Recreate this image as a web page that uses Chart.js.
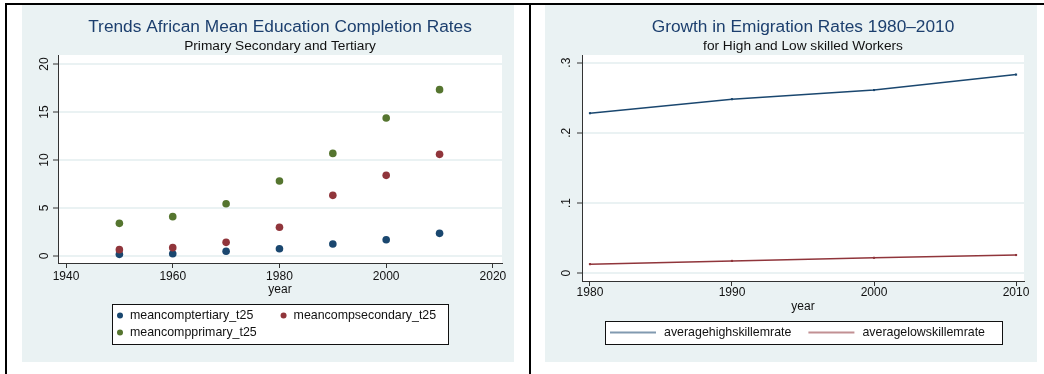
<!DOCTYPE html>
<html>
<head>
<meta charset="utf-8">
<script src="https://cdn.jsdelivr.net/npm/chart.js@4"></script>
<style>
  html, body { margin: 0; padding: 0; background: #fff; }
  body { width: 1044px; height: 374px; position: relative; overflow: hidden; }
  .rule { position: absolute; background: #000; }
  .panel { position: absolute; top: 5px; width: 492px; height: 357px; background: #eaf2f3; }
  #leftPanel { left: 22px; }
  #rightPanel { left: 545px; }
</style>
</head>
<body>
<div class="rule" style="left:5px;top:3px;width:1039px;height:2px"></div>
<div class="rule" style="left:5px;top:3px;width:2px;height:371px"></div>
<div class="rule" style="left:529px;top:3px;width:2px;height:371px"></div>
<div class="panel" id="leftPanel"><canvas id="eduChart"></canvas></div>
<div class="panel" id="rightPanel"><canvas id="emigChart"></canvas></div>
<script>
// Datos del gráfico de educación
const eduYears = [1950, 1960, 1970, 1980, 1990, 2000, 2010];
const tertiary = [0.17, 0.24, 0.49, 0.76, 1.25, 1.70, 2.36];
const secondary = [0.66, 0.87, 1.42, 2.99, 6.32, 8.40, 10.59];
const primary = [3.40, 4.10, 5.45, 7.81, 10.69, 14.38, 17.33];
const eduXTicks = [1940, 1960, 1980, 2000, 2020];
const eduYTicks = [0, 5, 10, 15, 20];
const eduYLabels = ['0', '5', '10', '15', '20'];

// Datos del gráfico de emigración
const emYears = [1980, 1990, 2000, 2010];
const highSkill = [0.228, 0.248, 0.261, 0.283];
const lowSkill = [0.013, 0.0176, 0.022, 0.026];
const emXTicks = [1980, 1990, 2000, 2010];
const emYTicks = [0, 0.1, 0.2, 0.3];
const emYLabels = ['0', '.1', '.2', '.3'];

const navy = '#1a476f';
const maroon = '#90353b';
const green = '#55752f';
const FAMILY = '"Liberation Sans", Arial, Helvetica, sans-serif';

Chart.defaults.font.family = FAMILY;
Chart.defaults.color = '#111';

const toPoints = (xs, ys) => xs.map((x, i) => ({ x: x, y: ys[i] }));

// fondo blanco del área, etiquetas verticales del eje y y leyenda con caja
const stataLook = {
    id: 'stataLook',
    beforeDraw(chart) {
        const a = chart.chartArea;
        const ctx = chart.ctx;
        ctx.save();
        ctx.fillStyle = '#ffffff';
        ctx.fillRect(a.left, a.top, a.right - a.left, a.bottom - a.top);
        ctx.restore();
    },
    afterDraw(chart, args, opts) {
        const ctx = chart.ctx;
        const y = chart.scales.y;
        const a = chart.chartArea;

        ctx.save();
        ctx.font = '12px ' + FAMILY;
        ctx.fillStyle = '#111';
        ctx.textAlign = 'center';
        ctx.textBaseline = 'middle';
        y.ticks.forEach((t, i) => {
            ctx.save();
            ctx.translate(y.right - opts.yLabelGap, y.getPixelForValue(t.value));
            ctx.rotate(-Math.PI / 2);
            ctx.fillText(opts.yLabels[i], 0, 0);
            ctx.restore();
        });

        // leyenda
        const datasets = chart.data.datasets;
        ctx.font = opts.legendFont + 'px ' + FAMILY;
        const symW = opts.legendKind === 'dot' ? 6 : 46;
        const symGap = opts.legendKind === 'dot' ? 7 : 8;
        const itemW = datasets.map(ds => symW + symGap + ctx.measureText(ds.label).width);
        const maxW = Math.max(...itemW);
        const colW = maxW + opts.colGap;
        const cols = opts.cols;
        const rows = Math.ceil(datasets.length / cols);
        const rowH = 17;
        const boxW = Math.round(5 + colW * (cols - 1) + maxW + 12);
        const boxH = 6 + rows * rowH;
        const x0 = Math.round((a.left + a.right) / 2 - boxW / 2);
        const y0 = opts.legendBottom - boxH;

        ctx.fillStyle = '#ffffff';
        ctx.fillRect(x0, y0, boxW, boxH);
        ctx.strokeStyle = '#111';
        ctx.lineWidth = 1;
        ctx.strokeRect(x0 + 0.5, y0 + 0.5, boxW, boxH);

        datasets.forEach((ds, i) => {
            const r = Math.floor(i / cols);
            const c = i % cols;
            const sx = x0 + 5 + c * colW;
            const cy = y0 + 3 + r * rowH + rowH / 2;
            if (opts.legendKind === 'dot') {
                ctx.fillStyle = ds.backgroundColor;
                ctx.beginPath();
                ctx.arc(sx + 3, cy, 3, 0, Math.PI * 2);
                ctx.fill();
            } else {
                ctx.save();
                ctx.globalAlpha = 0.55;
                ctx.strokeStyle = ds.borderColor;
                ctx.lineWidth = 2;
                ctx.beginPath();
                ctx.moveTo(sx, cy);
                ctx.lineTo(sx + symW, cy);
                ctx.stroke();
                ctx.restore();
            }
            ctx.fillStyle = '#111';
            ctx.textAlign = 'left';
            ctx.textBaseline = 'middle';
            ctx.fillText(ds.label, sx + symW + symGap, cy);
        });
        ctx.restore();
    }
};

function xAxis(min, max, ticks, height, tickPad, titlePad) {
    return {
        type: 'linear',
        min: min,
        max: max,
        afterBuildTicks: s => { s.ticks = ticks.map(v => ({ value: v })); },
        afterFit: s => { s.height = height; },
        grid: { color: 'rgba(0,0,0,0)', tickColor: '#333', tickLength: 5, tickWidth: 1 },
        border: { color: '#333', width: 1 },
        ticks: { color: '#111', font: { size: 12 }, padding: tickPad, maxRotation: 0, autoSkip: false, callback: v => String(v) },
        title: { display: true, text: 'year', color: '#111', font: { size: 12 }, padding: { top: 0, bottom: titlePad } }
    };
}

function yAxis(min, max, ticks, width) {
    return {
        type: 'linear',
        min: min,
        max: max,
        afterBuildTicks: s => { s.ticks = ticks.map(v => ({ value: v })); },
        afterFit: s => { s.width = width; },
        grid: { color: '#eaf2f3', lineWidth: 2, tickColor: '#333', tickLength: 5, tickWidth: 1 },
        border: { color: '#333', width: 1 },
        ticks: { display: false }
    };
}

function titles(main, sub) {
    return {
        title: {
            display: true, text: main, color: '#1c3f6e', fullSize: false,
            font: { size: 17.3, weight: 'normal' }, padding: { top: 12, bottom: 0 }
        },
        subtitle: {
            display: true, text: sub, color: '#111', fullSize: false,
            font: { size: 13.7, weight: 'normal' }, padding: { top: 0, bottom: 0.8 }
        }
    };
}

// **Gráfico de educación**
new Chart(document.getElementById('eduChart'), {
    type: 'scatter',
    data: {
        datasets: [
            { label: 'meancomptertiary_t25', data: toPoints(eduYears, tertiary), backgroundColor: navy, borderColor: navy, pointRadius: 3.8, borderWidth: 0, order: 2 },
            { label: 'meancompsecondary_t25', data: toPoints(eduYears, secondary), backgroundColor: maroon, borderColor: maroon, pointRadius: 3.8, borderWidth: 0, order: 1 },
            { label: 'meancompprimary_t25', data: toPoints(eduYears, primary), backgroundColor: green, borderColor: green, pointRadius: 3.8, borderWidth: 0, order: 3 }
        ]
    },
    options: {
        responsive: true,
        maintainAspectRatio: false,
        animation: false,
        layout: { padding: { left: 0, right: 12, top: 0, bottom: 63 } },
        scales: {
            x: xAxis(1938.5, 2021.7, eduXTicks, 36, 1, 1.8),
            y: yAxis(-0.73, 20.94, eduYTicks, 36)
        },
        plugins: Object.assign(titles('Trends African Mean Education Completion Rates', 'Primary Secondary and Tertiary'), {
            legend: { display: false },
            tooltip: { enabled: false },
            stataLook: { yLabels: eduYLabels, yLabelGap: 13, legendKind: 'dot', legendFont: 12.4, cols: 2, colGap: 8, legendBottom: 339 }
        })
    },
    plugins: [stataLook]
});

// **Gráfico de emigración**
new Chart(document.getElementById('emigChart'), {
    type: 'line',
    data: {
        datasets: [
            { label: 'averagehighskillemrate', data: toPoints(emYears, highSkill), borderColor: navy, backgroundColor: navy, borderWidth: 1.5, pointStyle: 'rect', pointRadius: 1.5, pointBorderWidth: 0, tension: 0, fill: false },
            { label: 'averagelowskillemrate', data: toPoints(emYears, lowSkill), borderColor: maroon, backgroundColor: maroon, borderWidth: 1.5, pointStyle: 'rect', pointRadius: 1.5, pointBorderWidth: 0, tension: 0, fill: false }
        ]
    },
    options: {
        responsive: true,
        maintainAspectRatio: false,
        animation: false,
        layout: { padding: { left: 0, right: 13, top: 0, bottom: 47 } },
        scales: {
            x: xAxis(1979.44, 2010.56, emXTicks, 34, -1, 0.8),
            y: yAxis(-0.011, 0.3109, emYTicks, 37)
        },
        plugins: Object.assign(titles('Growth in Emigration Rates 1980\u20132010', 'for High and Low skilled Workers'), {
            legend: { display: false },
            tooltip: { enabled: false },
            stataLook: { yLabels: emYLabels, yLabelGap: 15, legendKind: 'line', legendFont: 12.4, cols: 2, colGap: 17, legendBottom: 339 }
        })
    },
    plugins: [stataLook]
});
</script>
</body>
</html>
